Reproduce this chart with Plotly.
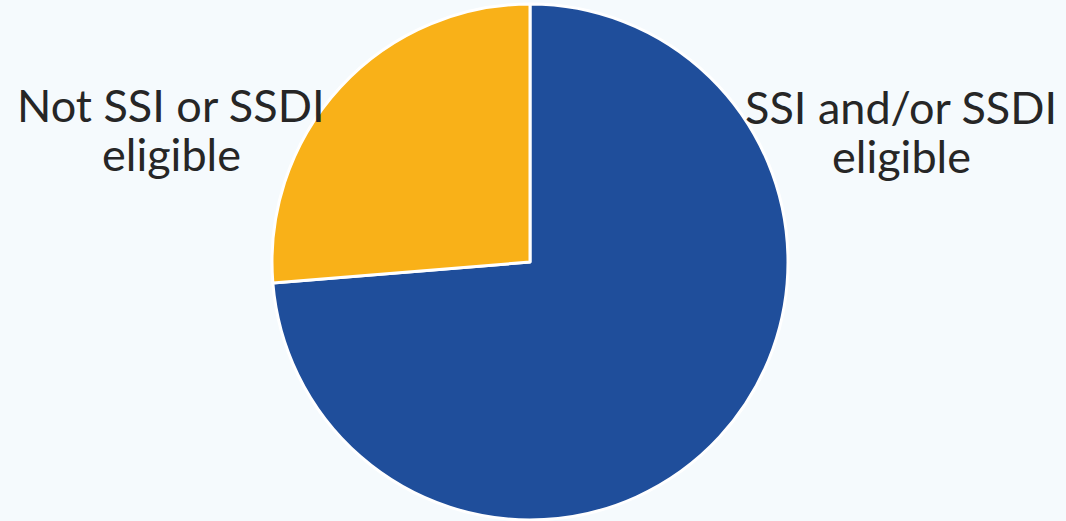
import plotly.graph_objects as go

categories = ["SSI and/or SSDI eligible", "Not SSI or SSDI eligible"]
values = [73.7, 26.3]
colors = ["#1f4e9b", "#f9b118"]
label_lines = [["SSI and/or SSDI", "eligible"], ["Not SSI or SSDI", "eligible"]]

W, H = 1066, 521
T, B = 4, 1
fig = go.Figure(go.Pie(
    labels=categories, values=values, sort=False, direction="clockwise", rotation=0,
    marker=dict(colors=colors, line=dict(color="white", width=3)),
    textinfo="none", hoverinfo="label+percent",
    domain=dict(x=[0, 1060 / W], y=[0, 1]),
))

font = dict(family="Lato, 'Open Sans', sans-serif", size=45, color="#262626")

def px(x, y):
    return x / W, 1 - (y - T) / (H - T - B)

label_pos = [(901, [107, 156]), (171, [105, 154])]
for lines, (cx, ys) in zip(label_lines, label_pos):
    for line, yy in zip(lines, ys):
        xp, yp = px(cx, yy)
        fig.add_annotation(text=line, x=xp, y=yp, xref="paper", yref="paper",
                           showarrow=False, font=font, xanchor="center", yanchor="middle")

fig.update_layout(
    width=W, height=H, showlegend=False,
    margin=dict(l=0, r=0, t=T, b=B),
    paper_bgcolor="#f5fafd", plot_bgcolor="#f5fafd",
)
fig.write_html("out.html", config={"displayModeBar": False},
               post_script="document.body.style.margin='0';document.body.style.background='#f5fafd';")
